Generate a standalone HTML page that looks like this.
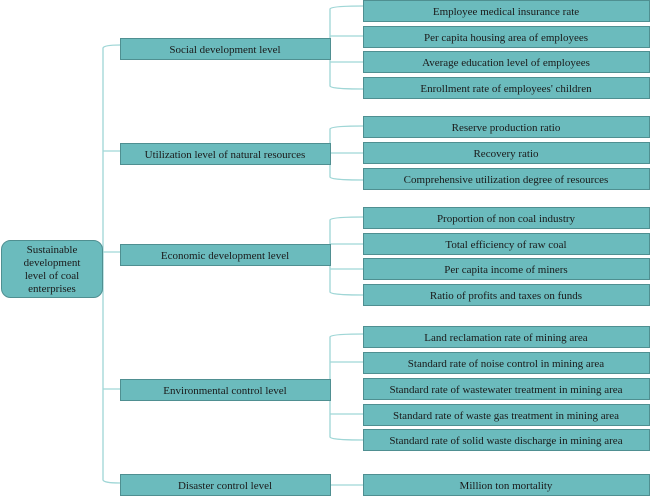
<!DOCTYPE html>
<html><head><meta charset="utf-8"><style>
html,body{margin:0;padding:0;background:#fff;}
svg{display:block;}
text{font-family:"Liberation Serif",serif;font-size:11px;fill:#1a1a1a;}
</style></head><body>
<svg width="650" height="496" viewBox="0 0 650 496" xmlns="http://www.w3.org/2000/svg">
<g fill="none" stroke="#9fd6d6" stroke-width="1.3">
<!-- trunk -->
<path d="M120,45 Q104,45 103,48 L103,480 Q104,483 120,483"/>
<path d="M103,151 L120,151"/><path d="M103,252 L120,252"/><path d="M103,389 L120,389"/>
<!-- social -->
<path d="M363,6 Q331,6 330,9 L330,86 Q331,89 363,89"/><path d="M330,36 L363,36"/><path d="M330,62 L363,62"/>
<!-- util -->
<path d="M363,126 Q331,126 330,129 L330,177 Q331,180 363,180"/><path d="M330,153 L363,153"/>
<!-- econ -->
<path d="M363,217 Q331,217 330,220 L330,292 Q331,295 363,295"/><path d="M330,244 L363,244"/><path d="M330,269 L363,269"/>
<!-- env -->
<path d="M363,334 Q331,334 330,337 L330,437 Q331,440 363,440"/><path d="M330,362 L363,362"/><path d="M330,414 L363,414"/>
<!-- disaster -->
<path d="M330,485 L363,485"/>
</g>
<g fill="#6bbbbd" stroke="#4f8f91" stroke-width="1">
<rect x="1.5" y="240.5" width="101" height="57" rx="9"/>
<rect x="120.5" y="38.5" width="210" height="21"/>
<rect x="120.5" y="143.5" width="210" height="21"/>
<rect x="120.5" y="244.5" width="210" height="21"/>
<rect x="120.5" y="379.5" width="210" height="21"/>
<rect x="120.5" y="474.5" width="210" height="21"/>
<rect x="363.5" y="0.5" width="286" height="21"/>
<rect x="363.5" y="26.5" width="286" height="21"/>
<rect x="363.5" y="51.5" width="286" height="21"/>
<rect x="363.5" y="77.5" width="286" height="21"/>
<rect x="363.5" y="116.5" width="286" height="21"/>
<rect x="363.5" y="142.5" width="286" height="21"/>
<rect x="363.5" y="168.5" width="286" height="21"/>
<rect x="363.5" y="207.5" width="286" height="21"/>
<rect x="363.5" y="233.5" width="286" height="21"/>
<rect x="363.5" y="258.5" width="286" height="21"/>
<rect x="363.5" y="284.5" width="286" height="21"/>
<rect x="363.5" y="326.5" width="286" height="21"/>
<rect x="363.5" y="352.5" width="286" height="21"/>
<rect x="363.5" y="378.5" width="286" height="21"/>
<rect x="363.5" y="404.5" width="286" height="21"/>
<rect x="363.5" y="429.5" width="286" height="21"/>
<rect x="363.5" y="474.5" width="286" height="21"/>
</g>
<g text-anchor="middle">
<text x="52" y="253">Sustainable</text>
<text x="52" y="266">development</text>
<text x="52" y="279">level of coal</text>
<text x="52" y="292">enterprises</text>
<text x="225" y="53">Social development level</text>
<text x="225" y="158">Utilization level of natural resources</text>
<text x="225" y="259">Economic development level</text>
<text x="225" y="394">Environmental control level</text>
<text x="225" y="489">Disaster control level</text>
<text x="506" y="15">Employee medical insurance rate</text>
<text x="506" y="41">Per capita housing area of employees</text>
<text x="506" y="66">Average education level of employees</text>
<text x="506" y="92">Enrollment rate of employees' children</text>
<text x="506" y="131">Reserve production ratio</text>
<text x="506" y="157">Recovery ratio</text>
<text x="506" y="183">Comprehensive utilization degree of resources</text>
<text x="506" y="222">Proportion of non coal industry</text>
<text x="506" y="248">Total efficiency of raw coal</text>
<text x="506" y="273">Per capita income of miners</text>
<text x="506" y="299">Ratio of profits and taxes on funds</text>
<text x="506" y="341">Land reclamation rate of mining area</text>
<text x="506" y="367">Standard rate of noise control in mining area</text>
<text x="506" y="393">Standard rate of wastewater treatment in mining area</text>
<text x="506" y="419">Standard rate of waste gas treatment in mining area</text>
<text x="506" y="444">Standard rate of solid waste discharge in mining area</text>
<text x="506" y="489">Million ton mortality</text>
</g>
</svg>
</body></html>
